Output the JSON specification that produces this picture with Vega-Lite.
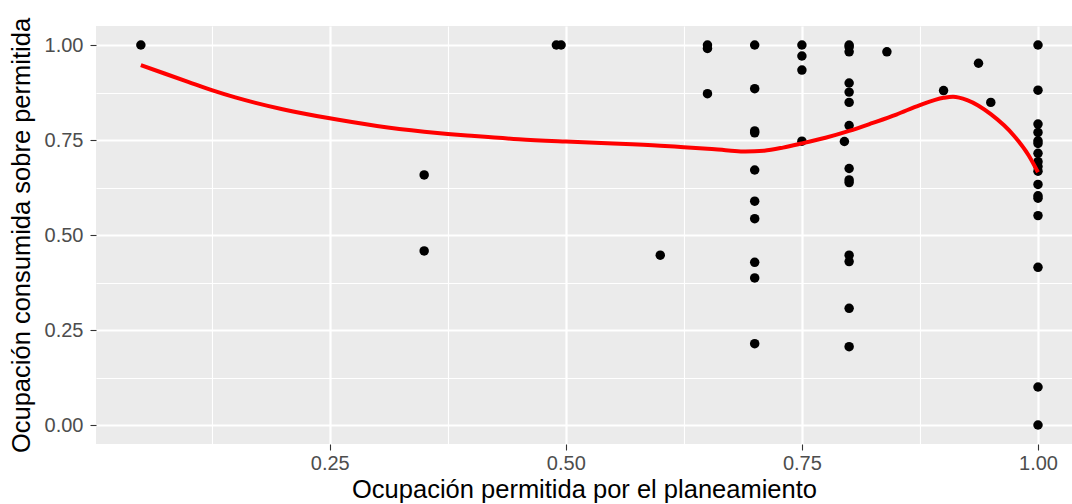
{
  "$schema": "https://vega.github.io/schema/vega-lite/v6.json",
  "autosize": {"type": "none"},
  "padding": {"left": 96, "top": 26, "right": 0, "bottom": 60},
  "width": 976,
  "height": 418,
  "background": "white",
  "config": {
    "view": {"fill": "#EBEBEB", "stroke": null},
    "font": "Liberation Sans",
    "axis": {
      "domain": false,
      "gridColor": "#FFFFFF",
      "tickColor": "#333333",
      "labelColor": "#4D4D4D",
      "labelFont": "Liberation Sans",
      "titleFont": "Liberation Sans",
      "titleFontWeight": "normal",
      "titleColor": "#000000"
    }
  },
  "datasets": {
    "pts": [
      {"x": 0.05, "y": 1.0},
      {"x": 0.35, "y": 0.658},
      {"x": 0.35, "y": 0.458},
      {"x": 0.49, "y": 1.0},
      {"x": 0.495, "y": 1.0},
      {"x": 0.6, "y": 0.447},
      {"x": 0.65, "y": 1.0},
      {"x": 0.65, "y": 0.991},
      {"x": 0.65, "y": 0.872},
      {"x": 0.7, "y": 1.0},
      {"x": 0.7, "y": 0.885},
      {"x": 0.7, "y": 0.774},
      {"x": 0.7, "y": 0.769},
      {"x": 0.7, "y": 0.671},
      {"x": 0.7, "y": 0.589},
      {"x": 0.7, "y": 0.543},
      {"x": 0.7, "y": 0.428},
      {"x": 0.7, "y": 0.387},
      {"x": 0.7, "y": 0.214},
      {"x": 0.75, "y": 1.0},
      {"x": 0.75, "y": 0.971},
      {"x": 0.75, "y": 0.934},
      {"x": 0.75, "y": 0.747},
      {"x": 0.795, "y": 0.746},
      {"x": 0.8, "y": 1.0},
      {"x": 0.8, "y": 0.995},
      {"x": 0.8, "y": 0.982},
      {"x": 0.8, "y": 0.9},
      {"x": 0.8, "y": 0.876},
      {"x": 0.8, "y": 0.849},
      {"x": 0.8, "y": 0.788},
      {"x": 0.8, "y": 0.675},
      {"x": 0.8, "y": 0.645},
      {"x": 0.8, "y": 0.638},
      {"x": 0.8, "y": 0.447},
      {"x": 0.8, "y": 0.43},
      {"x": 0.8, "y": 0.307},
      {"x": 0.8, "y": 0.206},
      {"x": 0.84, "y": 0.982},
      {"x": 0.9, "y": 0.88},
      {"x": 0.937, "y": 0.952},
      {"x": 0.95, "y": 0.849},
      {"x": 1.0, "y": 1.0},
      {"x": 1.0, "y": 0.881},
      {"x": 1.0, "y": 0.792},
      {"x": 1.0, "y": 0.77},
      {"x": 1.0, "y": 0.748},
      {"x": 1.0, "y": 0.741},
      {"x": 1.0, "y": 0.715},
      {"x": 1.0, "y": 0.693},
      {"x": 1.0, "y": 0.68},
      {"x": 1.0, "y": 0.668},
      {"x": 1.0, "y": 0.633},
      {"x": 1.0, "y": 0.603},
      {"x": 1.0, "y": 0.597},
      {"x": 1.0, "y": 0.551},
      {"x": 1.0, "y": 0.415},
      {"x": 1.0, "y": 0.1},
      {"x": 1.0, "y": 0.0}
    ],
    "curve": [
      {"x": 0.05, "y": 0.947},
      {"x": 0.075, "y": 0.925},
      {"x": 0.1, "y": 0.903},
      {"x": 0.125, "y": 0.881},
      {"x": 0.15, "y": 0.862},
      {"x": 0.2, "y": 0.831},
      {"x": 0.25, "y": 0.807},
      {"x": 0.3, "y": 0.787},
      {"x": 0.35, "y": 0.772},
      {"x": 0.375, "y": 0.766},
      {"x": 0.4, "y": 0.761},
      {"x": 0.45, "y": 0.752},
      {"x": 0.5, "y": 0.746},
      {"x": 0.55, "y": 0.741},
      {"x": 0.6, "y": 0.735},
      {"x": 0.625, "y": 0.731},
      {"x": 0.65, "y": 0.727},
      {"x": 0.675, "y": 0.722},
      {"x": 0.69, "y": 0.72},
      {"x": 0.71, "y": 0.722},
      {"x": 0.73, "y": 0.73},
      {"x": 0.75, "y": 0.741},
      {"x": 0.775, "y": 0.756},
      {"x": 0.8, "y": 0.774},
      {"x": 0.825, "y": 0.795},
      {"x": 0.85, "y": 0.817},
      {"x": 0.875, "y": 0.842},
      {"x": 0.9, "y": 0.861},
      {"x": 0.91, "y": 0.864},
      {"x": 0.925, "y": 0.855},
      {"x": 0.95, "y": 0.818},
      {"x": 0.975, "y": 0.76},
      {"x": 0.99, "y": 0.71},
      {"x": 1.0, "y": 0.665}
    ]
  },
  "layer": [
    {
      "data": {"name": "pts"},
      "mark": {"type": "point", "filled": true, "opacity": 0, "size": 0},
      "encoding": {
        "x": {"field": "x", "type": "quantitative",
          "scale": {"domain": [0.0025, 1.036], "nice": false, "zero": false},
          "axis": {"orient": "top", "values": [0.125, 0.375, 0.625, 0.875], "grid": true, "gridWidth": 1.1,
            "labels": false, "ticks": false, "title": null}},
        "y": {"field": "y", "type": "quantitative",
          "scale": {"domain": [-0.05, 1.05], "nice": false, "zero": false},
          "axis": {"orient": "right", "values": [0.125, 0.375, 0.625, 0.875], "grid": true, "gridWidth": 1.1,
            "labels": false, "ticks": false, "title": null}}
      }
    },
    {
      "data": {"name": "pts"},
      "mark": {"type": "circle", "color": "#000000", "opacity": 1, "size": 90},
      "encoding": {
        "x": {"field": "x", "type": "quantitative",
          "axis": {"orient": "bottom", "values": [0.25, 0.5, 0.75, 1.0], "format": ".2f", "grid": true, "gridWidth": 2.2,
            "tickSize": 6, "tickWidth": 1.1, "labelFontSize": 20, "labelPadding": 3,
            "title": "Ocupación permitida por el planeamiento", "titleFontSize": 25.5, "titlePadding": 4}},
        "y": {"field": "y", "type": "quantitative",
          "axis": {"orient": "left", "values": [0, 0.25, 0.5, 0.75, 1.0], "format": ".2f", "grid": true, "gridWidth": 2.2,
            "tickSize": 6, "tickWidth": 1.1, "labelFontSize": 20, "labelPadding": 7,
            "title": "Ocupación consumida sobre permitida", "titleFontSize": 25.5, "titlePadding": 10}}
      }
    },
    {
      "data": {"name": "curve"},
      "mark": {"type": "line", "color": "#FF0000", "strokeWidth": 4, "interpolate": "monotone"},
      "encoding": {
        "x": {"field": "x", "type": "quantitative", "axis": null},
        "y": {"field": "y", "type": "quantitative", "axis": null}
      }
    }
  ],
  "resolve": {"axis": {"x": "independent", "y": "independent"}}
}
